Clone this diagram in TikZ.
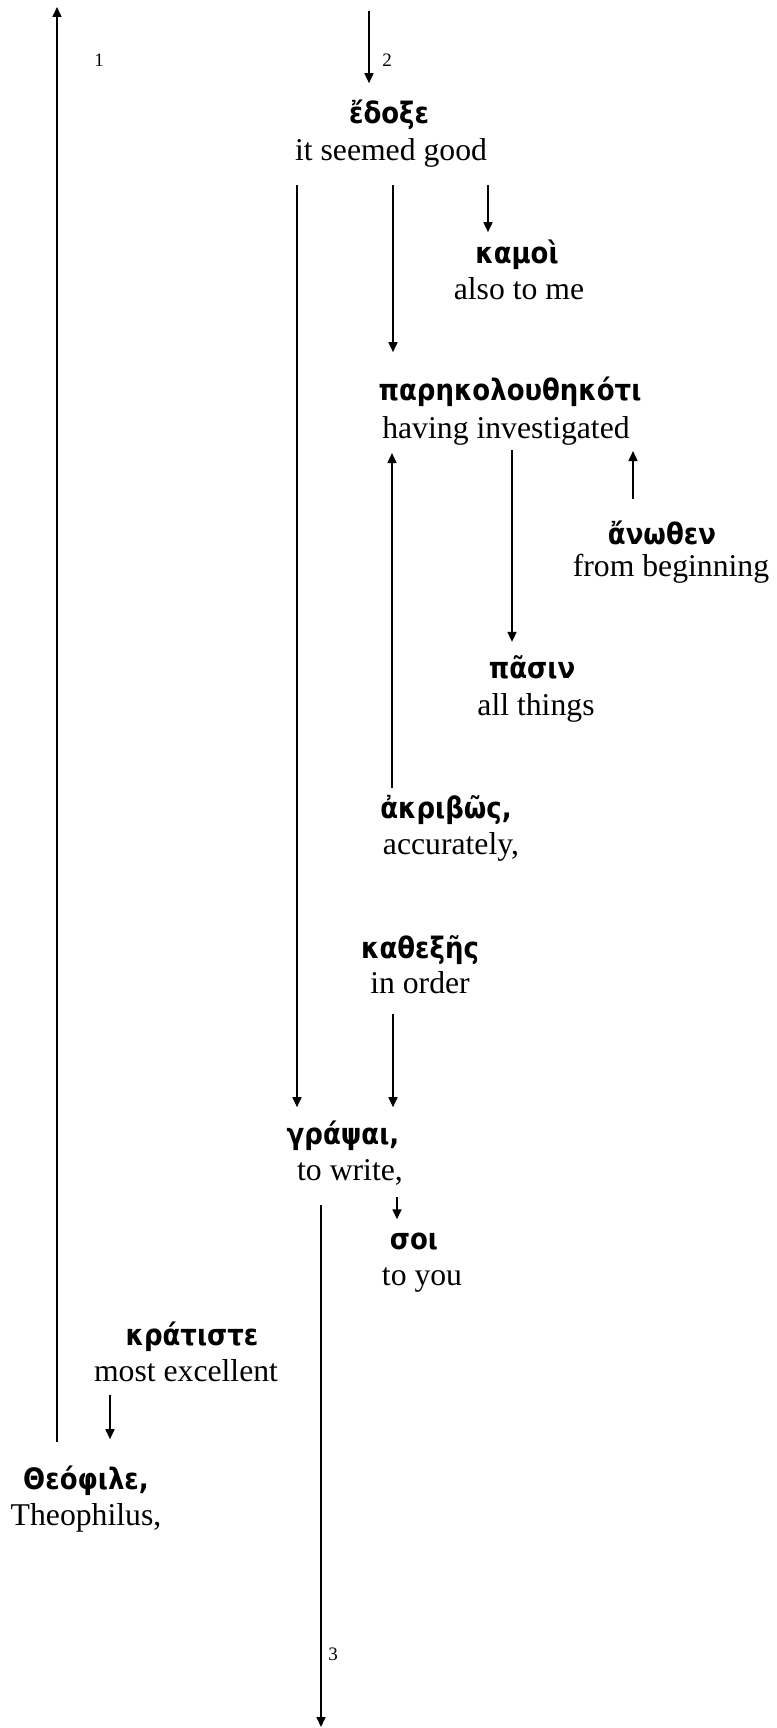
\documentclass[tikz,border=0pt]{standalone}
\usepackage{fontspec}
\setmainfont{Liberation Serif}
\newfontfamily\grkfont[Script=Greek, FakeStretch=0.88]{DejaVu Sans}
\usetikzlibrary{arrows.meta}
\tikzset{
  grk/.style={font=\grkfont\bfseries\fontsize{29.5}{34}\selectfont, inner sep=0pt, anchor=base},
  eng/.style={font=\fontsize{31.7}{36}\selectfont, inner sep=0pt, anchor=base},
  num/.style={font=\fontsize{19}{22}\selectfont, inner sep=0pt, anchor=base},
  arr/.style={line width=1.6pt, -{Triangle[length=10pt,width=9pt]}},
}
\begin{document}
\begin{tikzpicture}[x=1pt,y=-1pt]
\useasboundingbox (0,0) rectangle (776,1728);
% columns / free ends
\coordinate (top1) at (57,7);
\coordinate (top2) at (369,11);
\coordinate (bot3) at (321,1727);
\coordinate (c297) at (297,0);
\coordinate (c393) at (393,0);
\coordinate (c488) at (488,0);
\coordinate (c633) at (633,0);
\coordinate (c512) at (512,0);
\coordinate (c392) at (392,0);
\coordinate (c397) at (397,0);
\coordinate (c110) at (110,0);
% words
\node[grk] (edoxe) at (389,124) {ἔδοξε};
\node[eng] (edoxeE) at (391,161) {it seemed good};
\node[grk] (kamoi) at (517,263) {καμοὶ};
\node[eng] (kamoiE) at (519,299) {also to me};
\node[grk] (parek) at (510,400) {παρηκολουθηκότι};
\node[eng] (parekE) at (506,438) {having investigated};
\node[grk] (anothen) at (662,544) {ἄνωθεν};
\node[eng] (anothenE) at (671,576) {from beginning};
\node[grk] (pasin) at (532,678) {πᾶσιν};
\node[eng] (pasinE) at (536,715) {all things};
\node[grk] (akribos) at (446,818) {ἀκριβῶς,};
\node[eng] (akribosE) at (451,854) {accurately,};
\node[grk] (kathexes) at (420,958) {καθεξῆς};
\node[eng] (kathexesE) at (420,993) {in order};
\node[grk] (grapsai) at (343,1144) {γράψαι,};
\node[eng] (grapsaiE) at (350,1180) {to write,};
\node[grk] (soi) at (414,1249) {σοι};
\node[eng] (soiE) at (422,1285) {to you};
\node[grk] (kratiste) at (192,1345) {κράτιστε};
\node[eng] (kratisteE) at (186,1381) {most excellent};
\node[grk] (theophile) at (86,1489) {Θεόφιλε,};
\node[eng] (theophileE) at (86,1525) {Theophilus,};
% labels
\node[num] (n1) at (99,67) {1};
\node[num] (n2) at (387,67) {2};
\node[num] (n3) at (333,1660) {3};
% connectors
\draw[arr, shorten <=23pt] (theophile.north -| top1) -- (top1);
\draw[arr, shorten >=17pt] (top2) -- (edoxe.north -| top2);
\draw[arr, shorten <=17pt, shorten >=13pt] (edoxeE.south -| c297) -- (grapsai.north -| c297);
\draw[arr, shorten <=17pt, shorten >=24pt] (edoxeE.south -| c393) -- (parek.north -| c393);
\draw[arr, shorten <=17pt, shorten >=7pt] (edoxeE.south -| c488) -- (kamoi.north -| c488);
\draw[arr, shorten <=21pt, shorten >=6pt] (anothen.north -| c633) -- (parekE.south -| c633);
\draw[arr, shorten <=5pt, shorten >=13pt] (parekE.south -| c512) -- (pasin.north -| c512);
\draw[arr, shorten <=7pt, shorten >=8pt] (akribos.north -| c392) -- (parekE.south -| c392);
\draw[arr, shorten <=20pt, shorten >=13pt] (kathexesE.south -| c393) -- (grapsai.north -| c393);
\draw[arr, shorten <=12pt, shorten >=13pt] (grapsaiE.south -| c397) -- (soi.north -| c397);
\draw[arr, shorten <=20pt] (grapsaiE.south -| bot3) -- (bot3);
\draw[arr, shorten <=13pt, shorten >=26pt] (kratisteE.south -| c110) -- (theophile.north -| c110);
\end{tikzpicture}
\end{document}
